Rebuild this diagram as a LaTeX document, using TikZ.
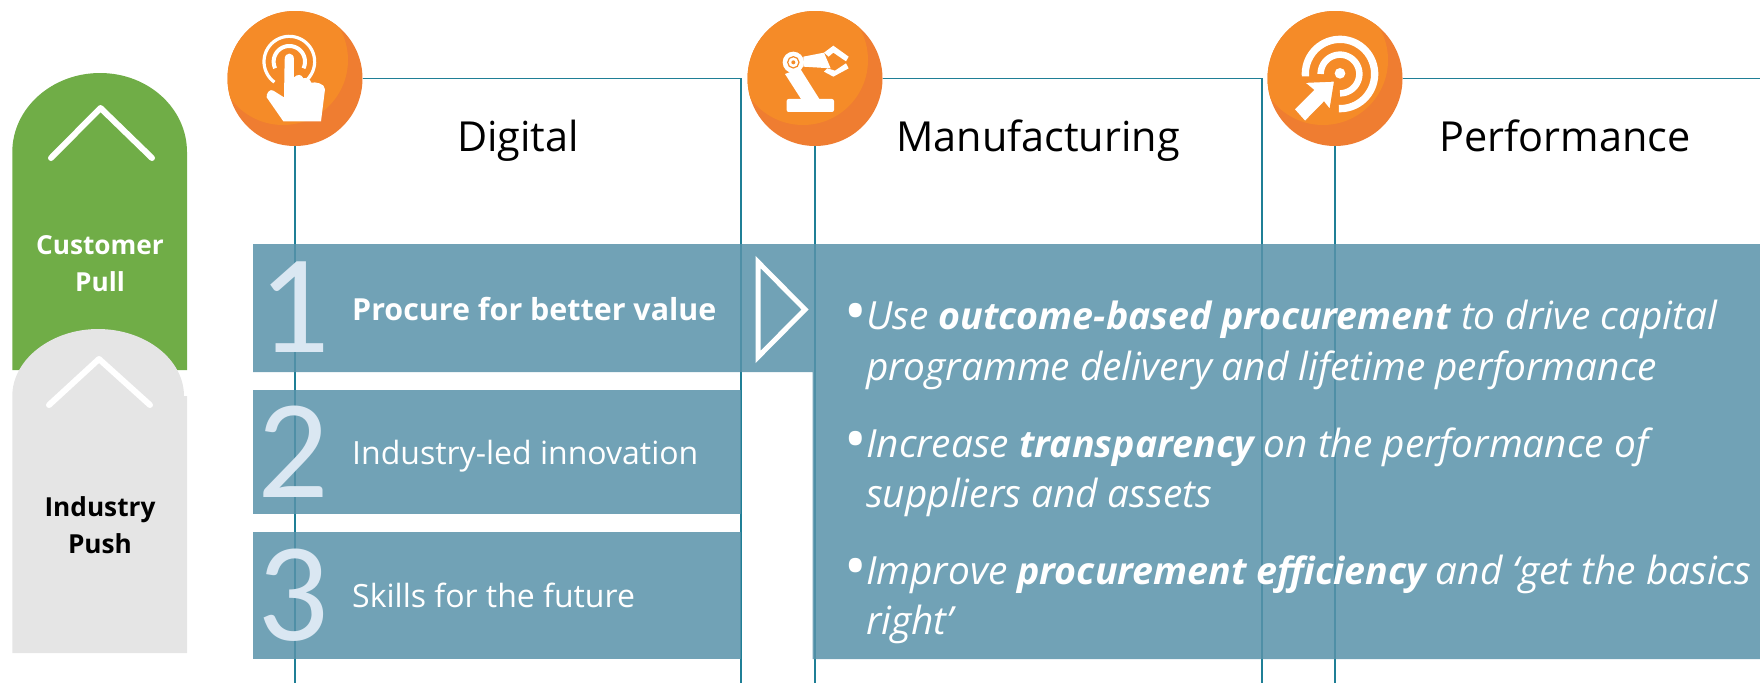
\documentclass[tikz,border=0pt]{standalone}
\usepackage{fontspec}
\setmainfont{Open Sans}
\newfontfamily\numfont{Carlito}
\definecolor{boxblue}{HTML}{5892A9}
\definecolor{rulec}{HTML}{1F7F96}
\definecolor{orangedark}{HTML}{EF7D31}
\definecolor{orangelight}{HTML}{F58B28}
\definecolor{greenc}{HTML}{70AD47}
\definecolor{greyc}{HTML}{E5E5E5}
\definecolor{numc}{HTML}{DAE7F2}
\newcommand{\bodybold}[1]{{\fontsize{37.6}{37.6}\selectfont\bfseries #1}}
\tikzset{
  x=1pt,y=-1pt,
  frameline/.style={draw=rulec,line width=1.4pt},
  blueshape/.style={fill=boxblue,fill opacity=.85},
  badge/.style={circle,minimum size=135pt,inner sep=0pt,fill=orangedark},
  title/.style={anchor=base,font=\fontsize{41.4}{41.4}\selectfont,text=black,inner sep=0pt},
  sidetext/.style={anchor=base,font=\fontsize{26.2}{26.2}\selectfont\bfseries,inner sep=0pt},
  digit/.style={anchor=base,font=\fontsize{141}{141}\numfont,text=numc,inner sep=0pt},
  lab/.style={anchor=base west,font=\fontsize{32}{32}\selectfont,text=white,inner sep=0pt},
  body/.style={anchor=base west,font=\fontsize{38.8}{38.8}\selectfont\itshape,text=white,inner sep=0pt},
  bul/.style={anchor=center,font=\fontsize{60}{60}\selectfont,text=white,inner sep=0pt},
  chev/.style={draw=white,line width=6pt,line cap=round,line join=round},
  icon/.style={fill=white,draw=none},
  ringline/.style={draw=white,line cap=butt}
}
\begin{document}
\begin{tikzpicture}
\useasboundingbox (0,0) rectangle (1760,683);
% badges are declared first, so that the frame lines can start at them
\node[badge] (c1) at (295,78.5) {};
\node[badge] (c2) at (815,78.5) {};
\node[badge] (c3) at (1335,78.5) {};
\coordinate (t1) at (741,78.5); \coordinate (b1) at (741,683); \coordinate (d1) at (295,683);
\coordinate (t2) at (1262,78.5); \coordinate (b2) at (1262,683); \coordinate (d2) at (815,683);
\coordinate (t3) at (1760,78.5); \coordinate (d3) at (1335,683);
\draw[frameline] (c1.south) -- (d1);
\draw[frameline] (c1.east) -- (t1) -- (b1);
\draw[frameline] (c2.south) -- (d2);
\draw[frameline] (c2.east) -- (t2) -- (b2);
\draw[frameline] (c3.south) -- (d3);
\draw[frameline] (c3.east) -- (t3);
% blue panels
\fill[blueshape] (253,244) -- (1760,244) -- (1760,659) -- (812.5,659) -- (812.5,372) -- (253,372) -- cycle;
\fill[blueshape] (253,389.5) rectangle (741,514);
\fill[blueshape] (253,532) rectangle (741,659);
% side shapes
\fill[greenc] (12.3,370) -- (12.3,152) .. controls (12.3,108.4) and (51.7,73) .. (100,73) .. controls (148.3,73) and (187,108.4) .. (187,152) -- (187,370) -- cycle;
\draw[chev] (51,158) -- (100.5,108) -- (152,158);
\fill[greyc] (12.3,653) -- (12.3,396) .. controls (12.3,359) and (52,329) .. (98,329) .. controls (145,329) and (184,359) .. (184,396) -- (187,396) -- (187,653) -- cycle;
\draw[chev] (49,405) -- (99,359) -- (150,405);
\node[sidetext,text=white] (s1) at (100,254) {Customer};
\node[sidetext,text=white] (s2) at (100,291) {Pull};
\node[sidetext,text=black] (s3) at (100,516) {Industry};
\node[sidetext,text=black] (s4) at (100,553) {Push};
% badge highlights
\foreach \c in {295,815,1335}{
  \begin{scope}
    \clip (\c,78.5) circle[radius=67.5pt];
    \fill[orangelight] (\c-12,60) circle[radius=65pt];
  \end{scope}
}
% hand icon
\begin{scope}[shift={(220,0)},x=0.3333pt,y=-0.3333pt]
  \draw[ringline,line width=3.2pt] plot[domain=-44:234,samples=40] ({208+76*cos(\x)},{185-76*sin(\x)});
  \draw[ringline,line width=4pt] plot[domain=-25:205,samples=40] ({208+47*cos(\x)},{185-47*sin(\x)});
  \fill[icon] (194,178) .. controls (194,155) and (222,155) .. (222,178) -- (222,232) .. controls (232,222) and (245,222) .. (250,235) .. controls (258,232) and (270,235) .. (274,248) .. controls (285,245) and (315,250) .. (315,268) -- (303,364) -- (190,364) -- (140,292) .. controls (138,280) and (150,265) .. (160,272) -- (192,292) -- cycle;
\end{scope}
% robot icon
\begin{scope}[shift={(720,0)},x=0.3333pt,y=-0.3333pt]
  \fill[icon,rounded corners=2pt] (200,297) rectangle (342,336);
  \fill[icon] (195,222) -- (240,205) -- (300,300) -- (245,300) -- cycle;
  \fill[icon] (250,170) -- (312,158) -- (332,205) -- (250,200) -- cycle;
  \fill[icon] (220,187) circle[radius=32];
  \draw[orangelight,line width=1.2pt,fill=white] (220,187) circle[radius=17];
  \fill[orangelight] (220,187) circle[radius=6];
  \fill[icon] (312,158) -- (340,137) -- (386,170) -- (378,184) -- (340,158) -- (326,170) -- cycle;
  \fill[icon] (322,205) -- (345,212) -- (378,190) -- (386,205) -- (340,230) -- (312,215) -- cycle;
\end{scope}
% target icon
\begin{scope}[shift={(1240,0)},x=0.3333pt,y=-0.3333pt]
  \draw[ringline,line width=7.3pt] plot[domain=-184:92,samples=50] ({300+104*cos(\x)},{222+104*sin(\x)});
  \draw[ringline,line width=6.5pt] plot[domain=-180:90,samples=50] ({300+58*cos(\x)},{222+58*sin(\x)});
  \fill[icon] (300,220) circle[radius=16];
  \draw[fill=white,draw=orangelight,line width=1.2pt] (284,243) -- (192,247) -- (220,270) -- (162,328) -- (195,365) -- (252,307) -- (270,330) -- cycle;
\end{scope}
% titles
\node[title] (h1) at (518,151) {Digital};
\node[title] (h2) at (1038,151) {Manufacturing};
\node[title] (h3) at (1565,151) {Performance};
% digits
\node[digit] (n1) at (294,352) {1};
\node[digit] (n2) at (293,497) {2};
\node[digit] (n3) at (293,640) {3};
% labels
\node[lab,font=\fontsize{30.4}{30.4}\selectfont\bfseries] (l1) at (352,320) {Procure for better value};
\node[lab] (l2) at (352,464) {Industry-led innovation};
\node[lab] (l3) at (352,607) {Skills for the future};
% triangle
\draw[draw=white,line width=5pt,miter limit=10] (758,262) -- (805,309.5) -- (758,357) -- cycle;
% bullets
\node[bul] (b1a) at (856,318) {•};
\node[bul] (b2a) at (856,446) {•};
\node[bul] (b3a) at (856,573) {•};
\node[body] (x1) at (866,329) {Use \bodybold{outcome-based procurement} to drive capital};
\node[body] (x2) at (866,380) {programme delivery and lifetime performance};
\node[body] (x3) at (866,457) {Increase \bodybold{transparency} on the performance of};
\node[body] (x4) at (866,507) {suppliers and assets};
\node[body] (x5) at (866,584) {Improve \bodybold{procurement efficiency} and ‘get the basics};
\node[body] (x6) at (866,634) {right’};
\end{tikzpicture}
\end{document}
